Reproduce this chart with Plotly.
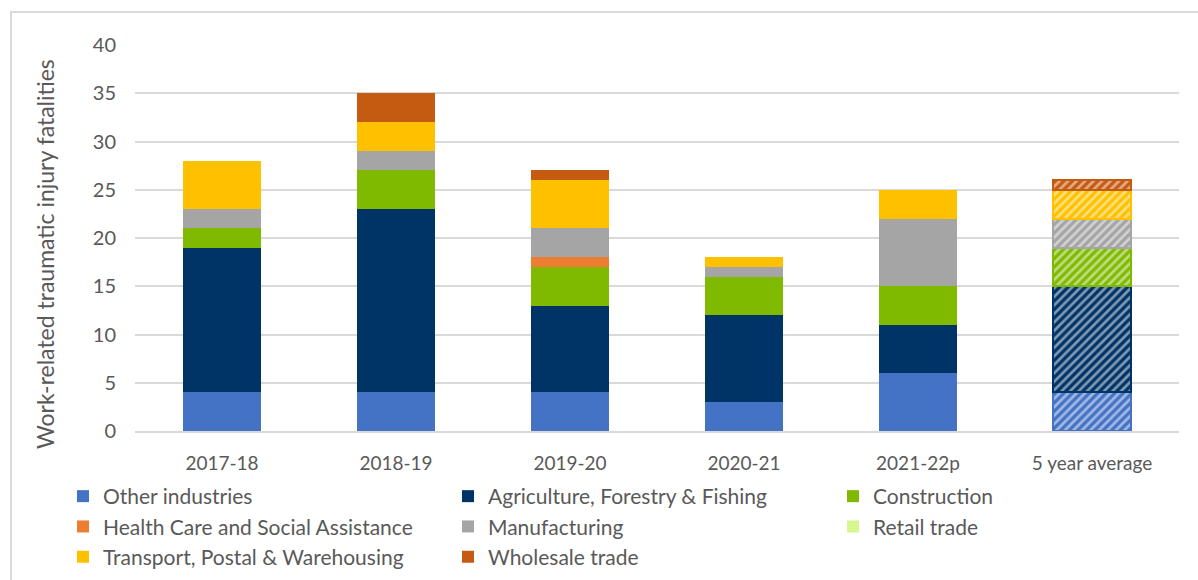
import plotly.graph_objects as go

categories = ["2017-18", "2018-19", "2019-20", "2020-21", "2021-22p", "5 year average"]

series_names = [
    "Other industries",
    "Agriculture, Forestry & Fishing",
    "Construction",
    "Health Care and Social Assistance",
    "Manufacturing",
    "Retail trade",
    "Transport, Postal & Warehousing",
    "Wholesale trade",
]

other_industries = [4, 4, 4, 3, 6, 4]
agriculture = [15, 19, 9, 9, 5, 11]
construction = [2, 4, 4, 4, 4, 4]
health_care = [0, 0, 1, 0, 0, 0]
manufacturing = [2, 2, 3, 1, 7, 3]
retail_trade = [0, 0, 0, 0, 0, 0]
transport = [5, 3, 5, 1, 3, 3]
wholesale = [0, 3, 1, 0, 0, 1]

y_ticks = [0, 5, 10, 15, 20, 25, 30, 35, 40]
y_title = "Work-related traumatic injury fatalities"

colors = ["#4472C4", "#003366", "#7FBA00", "#ED7D31", "#A5A5A5", "#D6F78E", "#FFC000", "#C55A11"]
values = [other_industries, agriculture, construction, health_care, manufacturing,
          retail_trade, transport, wholesale]
# legend column for each series (3-column legend, filled row by row)
legend_ids = ["legend", "legend2", "legend3", "legend", "legend2", "legend3", "legend", "legend2"]

FONT = "Lato"
GREY = "#595959"
W, H = 1198, 580
L, R, T, B = 135, 19, 45, 149

fig = go.Figure()
n = len(categories)
for i, (name, vals, col) in enumerate(zip(series_names, values, colors)):
    is_avg = [k == n - 1 for k in range(n)]
    fig.add_trace(go.Bar(
        x=categories,
        y=[v if v > 0 else None for v in vals],
        name=name,
        legend=legend_ids[i],
        legendgroup="g%d" % i,
        marker=dict(
            color=col,
            line=dict(color=col, width=[2 if a else 0 for a in is_avg]),
            pattern=dict(
                shape=["/" if a else "" for a in is_avg],
                fgcolor="white",
                fillmode="overlay",
                size=6,
                solidity=0.45,
            ),
        ),
        showlegend=True,
    ))

leg_common = dict(
    orientation="v",
    traceorder="normal",
    xref="container",
    yref="container",
    xanchor="left",
    yanchor="top",
    y=1 - 476 / H,
    font=dict(size=21, color=GREY, family=FONT),
    itemwidth=30,
    tracegroupgap=4,
    bgcolor="rgba(0,0,0,0)",
)

plot_w = W - L - R
plot_h = H - T - B

fig.update_layout(
    width=W,
    height=H,
    barmode="stack",
    bargap=0.55,
    paper_bgcolor="white",
    plot_bgcolor="white",
    margin=dict(l=L, r=R, t=T, b=B, autoexpand=False),
    font=dict(family=FONT, color=GREY, size=18),
    yaxis=dict(
        range=[0, 40],
        tickvals=y_ticks,
        showgrid=True,
        gridcolor="#D9D9D9",
        gridwidth=2,
        zeroline=False,
        showline=False,
        ticks="",
        ticklabelstandoff=18,
        tickfont=dict(size=20, color=GREY, family=FONT),
    ),
    xaxis=dict(
        showline=True,
        linecolor="#D9D9D9",
        linewidth=2,
        ticks="",
        ticklabelstandoff=14,
        tickfont=dict(size=19, color=GREY, family=FONT),
    ),
    legend=dict(leg_common, x=63 / W),
    legend2=dict(leg_common, x=448 / W),
    legend3=dict(leg_common, x=833 / W),
    annotations=[
        dict(text=y_title, xref="paper", yref="paper",
             x=(45 - L) / plot_w, y=1 - (254 - T) / plot_h,
             xanchor="center", yanchor="middle", textangle=-90, showarrow=False,
             font=dict(size=23, color=GREY, family=FONT)),
    ],
    shapes=[
        dict(type="rect", xref="paper", yref="paper",
             x0=(11 - L) / plot_w, x1=(W + 20 - L) / plot_w,
             y0=1 - (H + 20 - T) / plot_h, y1=1 - (12 - T) / plot_h,
             line=dict(color="#D9D9D9", width=2), fillcolor="rgba(0,0,0,0)", layer="below"),
    ],
)

fig.write_html("out.html",
               config={"displayModeBar": False},
               post_script="document.body.style.margin='0';document.body.style.overflow='hidden';")
